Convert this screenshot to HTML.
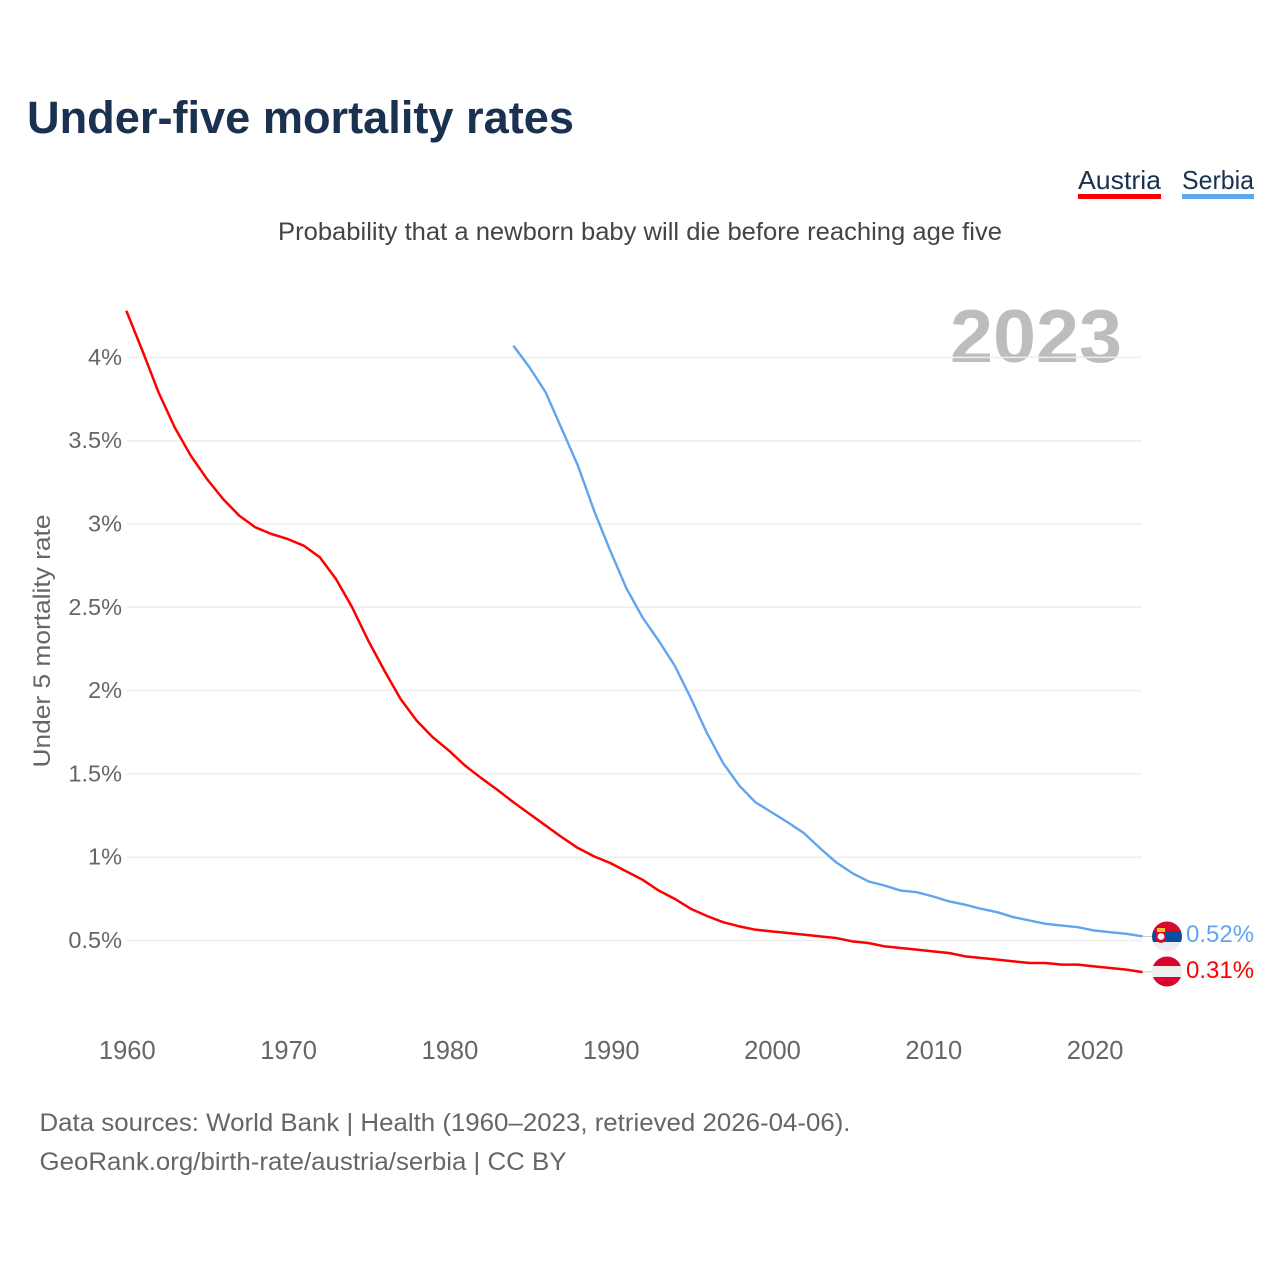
<!DOCTYPE html>
<html lang="en">
<head>
<meta charset="utf-8">
<title>Under-five mortality rates</title>
<style>
html,body{margin:0;padding:0;background:#fff;}
svg{display:block;font-family:"Liberation Sans",sans-serif;}
</style>
</head>
<body>
<svg id="chart" xmlns="http://www.w3.org/2000/svg" width="1280" height="1280" viewBox="0 0 1280 1280">
  <rect x="0" y="0" width="1280" height="1280" fill="#ffffff"/>
  <text x="27" y="133" font-size="45" font-weight="700" fill="#1a3150" textLength="547" lengthAdjust="spacingAndGlyphs">Under-five mortality rates</text>
  <g>
    <text x="1078" y="189" font-size="26" fill="#1a3150" textLength="83" lengthAdjust="spacingAndGlyphs">Austria</text>
    <rect x="1078" y="194" width="83" height="5" fill="#ff0000"/>
  </g>
  <g>
    <text x="1182" y="189" font-size="26" fill="#1a3150" textLength="72" lengthAdjust="spacingAndGlyphs">Serbia</text>
    <rect x="1182" y="194" width="72" height="5" fill="#60a5ee"/>
  </g>
  <text x="278" y="240" font-size="25" fill="#444444" textLength="724" lengthAdjust="spacingAndGlyphs">Probability that a newborn baby will die before reaching age five</text>
  <text x="1122" y="362" font-size="75" font-weight="700" fill="#bdbdbd" text-anchor="end" textLength="172" lengthAdjust="spacingAndGlyphs">2023</text>
  <text transform="translate(50 641) rotate(-90)" font-size="24.5" fill="#666666" text-anchor="middle" textLength="253" lengthAdjust="spacingAndGlyphs">Under 5 mortality rate</text>
  <g id="grid"></g>
  <g id="yticks"></g>
  <g id="xticks"></g>
  <g id="series"></g>
  <defs>
    <clipPath id="clip-serbia"><circle cx="1167" cy="936.5" r="15"/></clipPath>
    <clipPath id="clip-austria"><circle cx="1167" cy="971.5" r="15"/></clipPath>
  </defs>
  <g clip-path="url(#clip-serbia)">
    <rect x="1150" y="920" width="34" height="11" fill="#d9082e"/>
    <rect x="1150" y="931" width="34" height="11" fill="#0c4da2"/>
    <rect x="1150" y="942" width="34" height="12" fill="#eeeeee"/>
    <rect x="1157" y="928" width="8" height="4" fill="#f2c230"/>
    <path d="M1156 932h10v7q0 3-5 4q-5-1-5-4z" fill="#d9082e"/>
    <circle cx="1161" cy="936.5" r="3.4" fill="#f4f4f4"/>
  </g>
  <g clip-path="url(#clip-austria)">
    <rect x="1150" y="955" width="34" height="11" fill="#d9042e"/>
    <rect x="1150" y="966" width="34" height="11" fill="#eeeeee"/>
    <rect x="1150" y="977" width="34" height="11" fill="#d9042e"/>
  </g>
  <text x="1186" y="942" font-size="24" fill="#60a5ee">0.52%</text>
  <text x="1186" y="978" font-size="24" fill="#ff0000">0.31%</text>
  <text x="39.5" y="1131" font-size="25" fill="#666666" textLength="811" lengthAdjust="spacingAndGlyphs">Data sources: World Bank | Health (1960–2023, retrieved 2026-04-06).</text>
  <text x="39.5" y="1170" font-size="25" fill="#666666" textLength="527" lengthAdjust="spacingAndGlyphs">GeoRank.org/birth-rate/austria/serbia | CC BY</text>
</svg>
<script>
const yTickValues = [0.5, 1, 1.5, 2, 2.5, 3, 3.5, 4];
const xTickYears = [1960, 1970, 1980, 1990, 2000, 2010, 2020];
const austriaStartYear = 1960;
const austriaValues = [4.28,4.04,3.79,3.58,3.41,3.27,3.15,3.05,2.98,2.94,2.91,2.87,2.80,2.67,2.50,2.30,2.12,1.95,1.82,1.72,1.64,1.55,1.475,1.405,1.33,1.26,1.19,1.12,1.055,1.005,0.965,0.915,0.865,0.80,0.75,0.69,0.647,0.61,0.585,0.565,0.555,0.545,0.535,0.525,0.515,0.495,0.485,0.465,0.455,0.445,0.435,0.425,0.405,0.395,0.385,0.375,0.365,0.365,0.355,0.355,0.345,0.335,0.325,0.31];
const serbiaStartYear = 1984;
const serbiaValues = [4.07,3.94,3.79,3.57,3.35,3.08,2.84,2.615,2.44,2.30,2.15,1.955,1.745,1.565,1.43,1.33,1.27,1.21,1.145,1.055,0.97,0.905,0.855,0.83,0.80,0.79,0.765,0.735,0.715,0.69,0.67,0.64,0.62,0.60,0.59,0.58,0.56,0.55,0.54,0.525];

const NS = 'http://www.w3.org/2000/svg';
function xScale(year) { return 126.3 + (year - 1960) * 16.13; }
function yScale(value) { return 1023.8 - value * 166.6; }
function make(tag, attrs, parent) {
  const el = document.createElementNS(NS, tag);
  for (const key in attrs) el.setAttribute(key, attrs[key]);
  parent.appendChild(el);
  return el;
}
const gridGroup = document.getElementById('grid');
const yTickGroup = document.getElementById('yticks');
const xTickGroup = document.getElementById('xticks');
const seriesGroup = document.getElementById('series');

yTickValues.forEach(function (value) {
  const line = make('line', { x1: 127, x2: 1142, y1: yScale(value), y2: yScale(value), stroke: '#eeeeee', 'stroke-width': 1.5 }, gridGroup);
  
  
  const label = make('text', { x: 122, y: yScale(value) + 7.5, 'text-anchor': 'end', 'font-size': 23.5, fill: '#666666' }, yTickGroup);
  label.textContent = value + '%';
  
  
});

xTickYears.forEach(function (year) {
  const label = make('text', { x: xScale(year) + 1, y: 1059, 'text-anchor': 'middle', 'font-size': 25.5, fill: '#666666' }, xTickGroup);
  label.textContent = String(year);
  
  
});

function linePoints(startYear, values) {
  return values.map(function (value, i) {
    return xScale(startYear + i).toFixed(2) + ',' + yScale(value).toFixed(2);
  }).join(' ');
}
function leader(values, flagY) {
  const last = values[values.length - 1];
  const line = make('line', { x1: xScale(2023), y1: yScale(last), x2: 1153, y2: flagY, stroke: '#cccccc', 'stroke-width': 1 }, seriesGroup);
  return line;
}
const serbiaLeader = leader(serbiaValues, 936.5);


const austriaLeader = leader(austriaValues, 971.5);



const serbiaLine = make('polyline', { points: linePoints(serbiaStartYear, serbiaValues), fill: 'none', stroke: '#60a5ee', 'stroke-width': 2.4, 'stroke-linejoin': 'round' }, seriesGroup);


const austriaLine = make('polyline', { points: linePoints(austriaStartYear, austriaValues), fill: 'none', stroke: '#ff0000', 'stroke-width': 2.5, 'stroke-linejoin': 'round' }, seriesGroup);


</script>
</body>
</html>
